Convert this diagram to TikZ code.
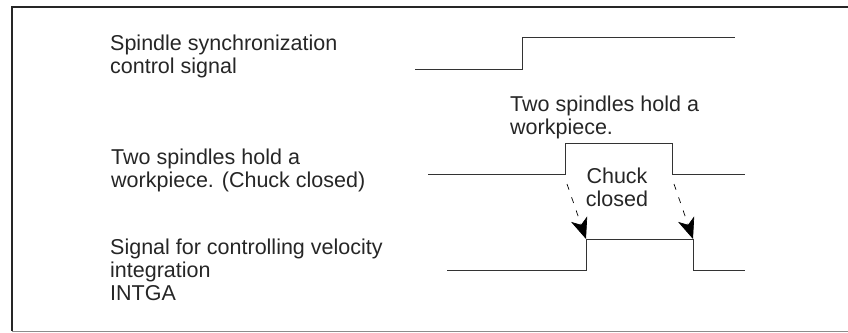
\documentclass[tikz,border=0pt]{standalone}
\usepackage{fontspec}
\setmainfont{Liberation Sans}
\usetikzlibrary{arrows.meta}
\begin{document}
\begin{tikzpicture}[x=1pt,y=-1pt,
    sig/.style={line width=1pt,draw=black!80},
    lbl/.style={anchor=base west,align=left,inner sep=0pt,
                font=\fontsize{21.5}{23}\selectfont,text=black!85},
    holdarrow/.style={line width=0.7pt,dash pattern=on 6pt off 8pt,
                      -{Stealth[length=21pt,width=17pt,inset=6pt]}}]
    \useasboundingbox (0,0) rectangle (848,332);
    % frame
    \draw[line width=1.5pt,black!85] (848,7) -- (12,7) -- (12,331);
    \draw[line width=1pt,black!45] (12,331) -- (848,331);
    % labels (placed at the baseline of their last line)
    \node[lbl] (synclbl) at (110,73) {Spindle synchronization\\control signal};
    \node[lbl] (holdlbl) at (111,187) {Two spindles hold a\\workpiece. (Chuck closed)};
    \node[lbl] (intglbl) at (110,300) {Signal for controlling velocity\\integration\\INTGA};
    \node[lbl] (holdtop) at (510,134) {Two spindles hold a\\workpiece.};
    \node[lbl,anchor=base,align=center] (chucklbl) at (617,206) {Chuck\\closed};
    % synchronization control signal
    \draw[sig] (415,69) -- (522,69) -- (522,37) -- (735,37);
    % two spindles hold a workpiece
    \coordinate (holdon)  at (565,174);
    \coordinate (holdoff) at (672,174);
    \draw[sig] (428,174) -- (holdon) -- (565,143) -- (672,143) -- (holdoff) -- (745,174);
    % velocity integration signal
    \coordinate (intgon)  at (586,239);
    \coordinate (intgoff) at (693,239);
    \draw[sig] (447,270) -- (586,270) -- (intgon) -- (intgoff) -- (693,270) -- (745,270);
    % chuck closed -> INTGA
    \draw[holdarrow] ([shift={(2,10)}]holdon) -- (intgon);
    \draw[holdarrow] ([shift={(2,10)}]holdoff) -- (intgoff);
\end{tikzpicture}
\end{document}
